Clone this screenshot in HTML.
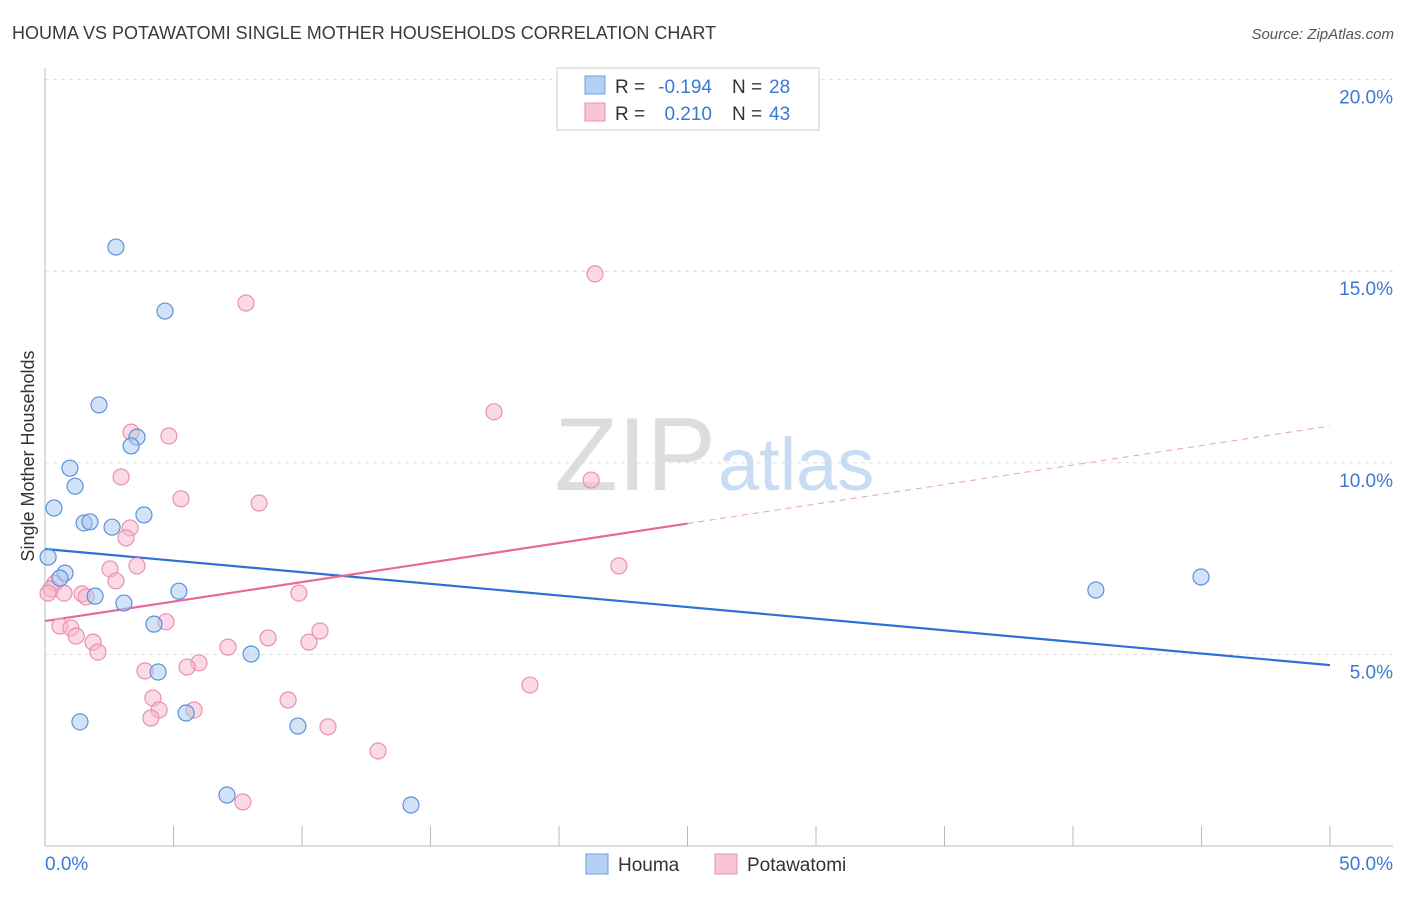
<!DOCTYPE html>
<html><head><meta charset="utf-8"><style>
body{margin:0;background:#fff;font-family:"Liberation Sans",sans-serif;}
svg text{font-family:"Liberation Sans",sans-serif;}
</style></head><body>
<svg id="chart" width="1406" height="892" xmlns="http://www.w3.org/2000/svg">
<text x="12" y="39" font-size="18" fill="#3a3a3a">HOUMA VS POTAWATOMI SINGLE MOTHER HOUSEHOLDS CORRELATION CHART</text>
<text x="1394" y="39" font-size="15" fill="#555" text-anchor="end" font-style="italic">Source: ZipAtlas.com</text>
<text x="716" y="490" font-size="104" fill="#ddd" text-anchor="end" font-family="Liberation Serif">ZIP</text>
<text x="718" y="490" font-size="74" fill="#c8dcf4">atlas</text>
<text transform="translate(34,456) rotate(-90)" font-size="18" fill="#333" text-anchor="middle">Single Mother Households</text>
<g id="grid"></g><g id="axes"></g><g id="lines"></g><g id="pts"></g>
<g>
<rect x="557" y="68" width="262" height="62" fill="#fff" stroke="#ccc"/>
<rect x="585" y="76" width="20" height="18" fill="#b5d0f5" stroke="#6a9fe0"/>
<text x="615" y="93" font-size="19" fill="#333">R =</text>
<text x="712" y="93" font-size="19" fill="#3a78d8" text-anchor="end">-0.194</text>
<text x="732" y="93" font-size="19" fill="#333">N =</text>
<text x="769" y="93" font-size="19" fill="#3a78d8">28</text>
<rect x="585" y="103" width="20" height="18" fill="#f9c5d5" stroke="#e890b0"/>
<text x="615" y="120" font-size="19" fill="#333">R =</text>
<text x="712" y="120" font-size="19" fill="#3a78d8" text-anchor="end">0.210</text>
<text x="732" y="120" font-size="19" fill="#333">N =</text>
<text x="769" y="120" font-size="19" fill="#3a78d8">43</text>
</g>
<g>
<rect x="586" y="854" width="22" height="20" fill="#b5d0f5" stroke="#6a9fe0"/>
<text x="618" y="871" font-size="19" fill="#333">Houma</text>
<rect x="715" y="854" width="22" height="20" fill="#f9c5d5" stroke="#e890b0"/>
<text x="747" y="871" font-size="19" fill="#333">Potawatomi</text>
</g>
</svg>
<script>
const houmaX=[2.76,4.67,2.10,3.58,3.35,0.97,1.17,0.35,3.85,1.52,1.75,2.61,0.12,0.78,0.58,5.21,1.95,3.07,4.24,8.02,4.40,1.36,5.49,9.84,7.08,14.24,40.89,44.98];
const houmaY=[15.63,13.96,11.51,10.67,10.44,9.86,9.39,8.82,8.64,8.43,8.46,8.32,7.54,7.12,6.99,6.65,6.52,6.34,5.79,5.01,4.54,3.24,3.47,3.13,1.33,1.07,6.68,7.02];
const potaX=[21.40,7.82,17.47,3.35,4.82,2.96,21.25,5.29,8.33,3.31,3.15,2.53,3.58,22.33,2.76,0.39,0.23,0.74,0.12,1.44,1.60,9.88,4.71,0.58,1.01,1.21,10.70,1.87,8.68,10.27,2.06,7.12,5.99,5.53,3.89,18.87,4.20,9.46,4.44,5.80,4.12,11.01,12.96,7.70];
const potaY=[14.93,14.17,11.33,10.80,10.70,9.63,9.55,9.06,8.95,8.30,8.04,7.23,7.31,7.31,6.92,6.86,6.71,6.60,6.60,6.58,6.50,6.60,5.85,5.74,5.69,5.48,5.61,5.32,5.43,5.32,5.06,5.19,4.78,4.67,4.57,4.20,3.86,3.81,3.55,3.55,3.34,3.11,2.48,1.15];
const yTicks=[5,10,15,20];
const yTickLabels=["5.0%","10.0%","15.0%","20.0%"];
const xTicks=[0,5,10,15,20,25,30,35,40,45,50];
const houmaTrend=[7.75,4.72];
const potaTrend=[5.87,10.96];
const sx=v=>45+v*25.7, sy=v=>846-v*38.32;
const NS="http://www.w3.org/2000/svg";
function mk(t,a,p){const e=document.createElementNS(NS,t);for(const k in a)e.setAttribute(k,a[k]);p.appendChild(e);return e;}
const grid=document.getElementById('grid'),axes=document.getElementById('axes'),lines=document.getElementById('lines'),pts=document.getElementById('pts');
yTicks.forEach((v,i)=>{
 const l=mk('line',{x1:45,x2:1393,y1:sy(v),y2:sy(v),stroke:'#ddd','stroke-dasharray':'4,4'},grid);
 
 
 const t=mk('text',{x:1393,y:sy(v)+24,'font-size':19,fill:'#3a78d8','text-anchor':'end'},grid);
 t.textContent=yTickLabels[i];
 
 
});
const ax=mk('line',{x1:45,x2:1393,y1:846,y2:846,stroke:'#bbb'},axes);


const ay=mk('line',{x1:45,x2:45,y1:68,y2:846,stroke:'#bbb'},axes);


xTicks.forEach(v=>{
 const l=mk('line',{x1:sx(v),x2:sx(v),y1:826,y2:846,stroke:'#bbb'},axes);
 
 
});
const t0=mk('text',{x:45,y:870,'font-size':19,fill:'#3a78d8'},axes);t0.textContent='0.0%';


const t1=mk('text',{x:1393,y:870,'font-size':19,fill:'#3a78d8','text-anchor':'end'},axes);t1.textContent='50.0%';


function pt(x,y,f,s,n){const c=mk('circle',{cx:sx(x),cy:sy(y),r:8,fill:f,'fill-opacity':0.5,stroke:s,'stroke-width':1.2},pts);
 
 }
potaX.forEach((x,i)=>pt(x,potaY[i],'#f7b6cb','#e890b0','potawatomi-point'));
houmaX.forEach((x,i)=>pt(x,houmaY[i],'#a8c8f0','#5a92dc','houma-point'));
const hl=mk('line',{x1:sx(0),y1:sy(houmaTrend[0]),x2:sx(50),y2:sy(houmaTrend[1]),stroke:'#2f6fd6','stroke-width':2.2},lines);


const py=x=>potaTrend[0]+(potaTrend[1]-potaTrend[0])*x/50;
const pl=mk('line',{x1:sx(0),y1:sy(py(0)),x2:sx(25),y2:sy(py(25)),stroke:'#e8689a','stroke-width':2.2},lines);


const pd=mk('line',{x1:sx(25),y1:sy(py(25)),x2:sx(50),y2:sy(py(50)),stroke:'#e8a0bc','stroke-width':1,'stroke-dasharray':'6,5'},lines);


</script>
</body></html>
